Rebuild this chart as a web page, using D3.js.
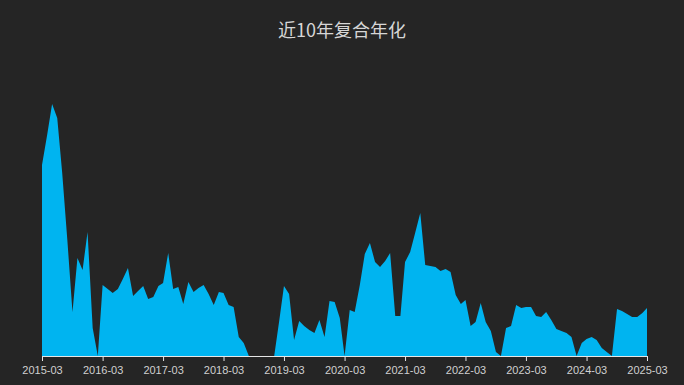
<!DOCTYPE html>
<html>
<head>
<meta charset="utf-8">
<script src="https://cdn.jsdelivr.net/npm/d3@7/dist/d3.min.js"></script>
<style>
  html, body { margin: 0; padding: 0; background: #252525; }
  svg { display: block; }
</style>
</head>
<body>
<script>
// chart title
var title = "近10年复合年化";

// first month of the monthly series
var startMonth = "2015-03";

// monthly values, 2015-03 .. 2025-03 (121 points)
var values = [
  19.1, 22.1, 25.2, 23.8, 18.3, 11.6, 4.4, 9.8, 8.6, 12.4, 2.8, 0,
  7.1, 6.7, 6.3, 6.7, 7.7, 8.8, 6.0, 6.5, 7.0, 5.7, 5.9, 7.0,
  7.3, 10.3, 6.7, 6.9, 5.2, 7.4, 6.4, 6.8, 7.1, 6.2, 5.1, 6.4,
  6.3, 5.1, 4.9, 1.9, 1.3, 0, 0, 0, 0, 0, 0, 3.6,
  7.0, 6.2, 1.6, 3.5, 3.0, 2.6, 2.3, 3.6, 1.9, 5.5, 5.4, 3.8,
  0, 4.6, 4.4, 7.1, 10.2, 11.3, 9.4, 8.9, 9.5, 10.3, 4.0, 4.0,
  9.4, 10.4, 12.3, 14.3, 9.1, 9.0, 8.9, 8.5, 8.7, 8.4, 6.1, 5.2,
  5.6, 3.0, 3.4, 5.3, 3.4, 2.5, 0.4, 0, 2.8, 3.0, 5.1, 4.8,
  4.9, 4.9, 4.0, 3.9, 4.4, 3.6, 2.7, 2.5, 2.3, 1.9, 0, 1.3,
  1.7, 1.9, 1.6, 0.8, 0.4, 0, 4.7, 4.5, 4.2, 3.9, 3.9, 4.3,
  4.8
];

// x axis tick labels
var tickLabels = ["2015-03", "2016-03", "2017-03", "2018-03", "2019-03",
                  "2020-03", "2021-03", "2022-03", "2023-03", "2024-03", "2025-03"];

var width = 684, height = 385;
var margin = { top: 76, right: 37, bottom: 29, left: 42 };

var parseMonth = d3.timeParse("%Y-%m");
var fmtMonth = d3.timeFormat("%Y-%m");
var start = parseMonth(startMonth);

var data = values.map(function (v, i) {
  return { date: d3.timeMonth.offset(start, i), value: v };
});

var svg = d3.select("body").append("svg")
  .attr("width", width)
  .attr("height", height);

var x = d3.scaleTime()
  .domain(d3.extent(data, function (d) { return d.date; }))
  .range([margin.left, width - margin.right]);

var y = d3.scaleLinear()
  .domain([0, 28])
  .range([height - margin.bottom, margin.top]);

// title
svg.append("text")
  .attr("x", width / 2)
  .attr("y", 37)
  .attr("text-anchor", "middle")
  .style("font-family", "'Noto Sans CJK SC', sans-serif")
  .style("font-size", "18px")
  .style("fill", "#d6d6d6")
  .text(title);

// area
var area = d3.area()
  .x(function (d) { return x(d.date); })
  .y0(y(0))
  .y1(function (d) { return y(d.value); });

svg.append("path")
  .datum(data)
  .attr("d", area)
  .attr("fill", "#00b4f0");

// x axis
var xAxis = d3.axisBottom(x)
  .tickValues(tickLabels.map(parseMonth))
  .tickFormat(fmtMonth)
  .tickSize(5)
  .tickSizeOuter(0);

var gx = svg.append("g")
  .attr("transform", "translate(0," + y(0) + ")")
  .call(xAxis);

gx.select(".domain").attr("stroke", "#e6e6e6");
gx.selectAll(".tick line").attr("stroke", "#e6e6e6");
gx.selectAll(".tick text")
  .attr("dy", "0.95em")
  .style("font-family", "'Liberation Sans', Arial, sans-serif")
  .style("font-size", "11px")
  .style("fill", "#d0d0d0");
</script>
</body>
</html>
